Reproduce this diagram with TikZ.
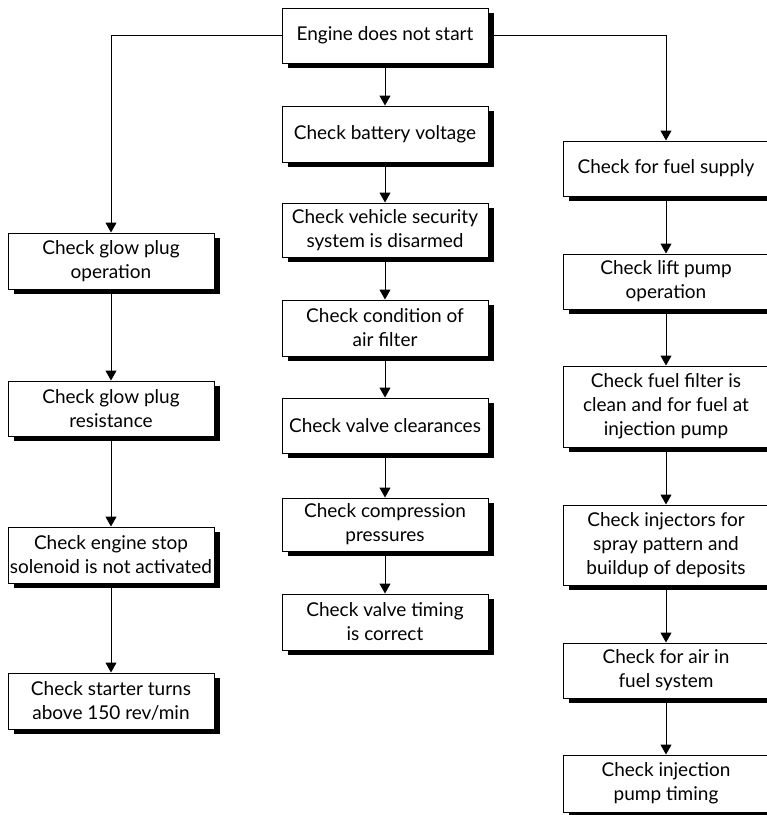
\documentclass[tikz,border=0pt]{standalone}
\usepackage{fontspec}
\setmainfont{Lato}
\usetikzlibrary{arrows.meta,shadows}

\begin{document}
\begin{tikzpicture}[x=1pt,y=-1pt,line width=1pt,>=Triangle,
  box/.style={draw,fill=white,align=center,minimum width=206pt,inner sep=1pt,
    font=\fontsize{19}{24}\selectfont,
    drop shadow={shadow xshift=6pt,shadow yshift=-5pt,fill=black,opacity=1}},
  link/.style={->,line width=1pt,>={Triangle[length=10pt,width=11pt]}}]
\useasboundingbox (0,0) rectangle (767,815);
% ---------- top ----------
\node[box,minimum height=55] (engine) at (385,35.5) {Engine does not start};
% ---------- left column ----------
\node[box,minimum height=56] (glowop)   at (111,261) {Check glow plug\\operation};
\node[box,minimum height=55] (glowres)  at (111,408.5) {Check glow plug\\resistance};
\node[box,minimum height=56] (stopsol)  at (111,555) {Check engine stop\\solenoid is not activated};
\node[box,minimum height=56] (starter)  at (111,701) {Check starter turns\\above 150 rev/min};
% ---------- middle column ----------
\node[box,minimum height=56] (battery)  at (385,134) {Check battery voltage};
\node[box,minimum height=54] (security) at (385,230) {Check vehicle security\\system is disarmed};
\node[box,minimum height=56] (airfilt)  at (385,328) {Check condition of\\air filter};
\node[box,minimum height=55] (valvecl)  at (385,425.5) {Check valve clearances};
\node[box,minimum height=53] (compr)    at (385,524.5) {Check compression\\pressures};
\node[box,minimum height=56] (valvetim) at (385,622) {Check valve timing\\is correct};
% ---------- right column ----------
\node[box,minimum height=55] (fuelsup)  at (666,168.5) {Check for fuel supply};
\node[box,minimum height=55] (liftpump) at (666,281.5) {Check lift pump\\operation};
\node[box,minimum height=81] (fuelfilt) at (666,406.5) {Check fuel filter is\\clean and for fuel at\\injection pump};
\node[box,minimum height=80] (injector) at (666,545) {Check injectors for\\spray pattern and\\buildup of deposits};
\node[box,minimum height=55] (airfuel)  at (666,670.5) {Check for air in\\fuel system};
\node[box,minimum height=57] (pumptim)  at (666,783.5) {Check injection\\pump timing};
% ---------- connectors ----------
\draw[link] (engine.west) -| (glowop.north);
\draw[link] (engine.east) -| (fuelsup.north);
\draw[link] (glowop) -- (glowres);
\draw[link] (glowres) -- (stopsol);
\draw[link] (stopsol) -- (starter);
\draw[link] (engine) -- (battery);
\draw[link] (battery) -- (security);
\draw[link] (security) -- (airfilt);
\draw[link] (airfilt) -- (valvecl);
\draw[link] (valvecl) -- (compr);
\draw[link] (compr) -- (valvetim);
\draw[link] (fuelsup) -- (liftpump);
\draw[link] (liftpump) -- (fuelfilt);
\draw[link] (fuelfilt) -- (injector);
\draw[link] (injector) -- (airfuel);
\draw[link] (airfuel) -- (pumptim);
\end{tikzpicture}
\end{document}
